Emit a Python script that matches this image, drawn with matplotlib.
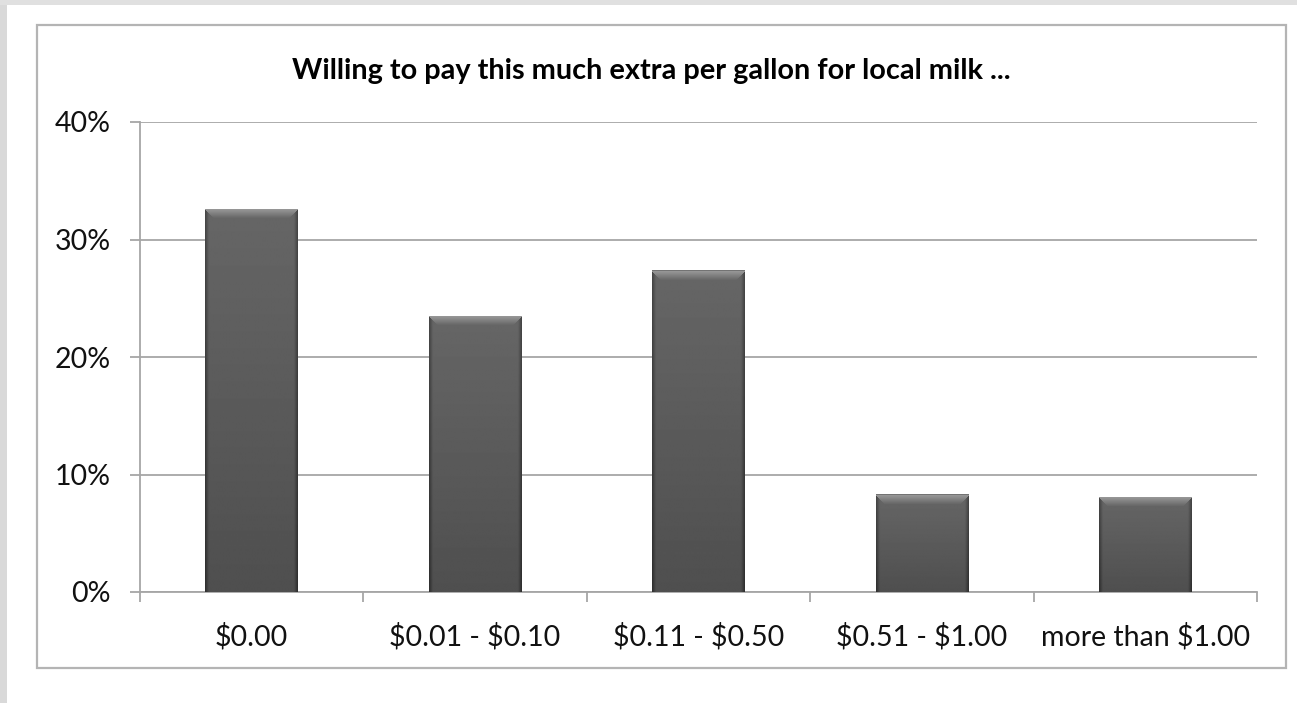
import matplotlib
matplotlib.use("Agg")
import matplotlib.pyplot as plt
import numpy as np
from matplotlib.patches import Rectangle

# data
categories = ["$0.00", "$0.01 - $0.10", "$0.11 - $0.50", "$0.51 - $1.00", "more than $1.00"]
shares = [32.6, 23.5, 27.4, 8.3, 8.1]
yticks = [0, 10, 20, 30, 40]
title = "Willing to pay this much extra per gallon for local milk ..."

plt.rcParams["font.family"] = ["Lato", "DejaVu Sans"]
plt.rcParams["text.parse_math"] = False   # keep the $ signs literal
W, H = 1297, 703
fig = plt.figure(figsize=(W / 100, H / 100), dpi=100)
fig.patch.set_facecolor("white")

# gray strips of the page behind the chart
fig.patches.append(Rectangle((0, 0), 7 / W, 1, transform=fig.transFigure,
                             facecolor="#d9d9d9", edgecolor="none", zorder=-1))
fig.patches.append(Rectangle((0, 1 - 5 / H), 1, 5 / H, transform=fig.transFigure,
                             facecolor="#e0e0e0", edgecolor="none", zorder=-1))
# chart frame
fig.patches.append(Rectangle((37 / W, 1 - 668 / H), (1286 - 37) / W, (668 - 25) / H,
                             transform=fig.transFigure, facecolor="none",
                             edgecolor="#b4b4b4", linewidth=1.6, zorder=-1))

ax = fig.add_axes([140 / W, 1 - 592 / H, (1257 - 140) / W, (592 - 122) / H])
ax.set_facecolor("none")
x = np.arange(len(categories))
ax.set_xlim(-0.5, len(categories) - 0.5)
ax.set_ylim(0, 40)

gcol = "#a6a6a6"
ax.set_yticks(yticks)
ax.set_yticklabels([f"{v}%" for v in yticks])
ax.yaxis.grid(True, color=gcol, linewidth=1.3)
ax.set_axisbelow(True)
ax.set_xticks(np.arange(len(categories) + 1) - 0.5)
ax.set_xticklabels([])
ax.set_xticks(x, minor=True)
ax.set_xticklabels(categories, minor=True)
ax.tick_params(axis="x", which="major", length=7, width=1.3, color=gcol, direction="out")
ax.tick_params(axis="x", which="minor", length=0, pad=22, labelsize=20.5, labelcolor="#111111")
ax.tick_params(axis="y", length=7, width=1.3, color=gcol, direction="out", pad=14,
               labelsize=20.5, labelcolor="#111111")
for side in ["top", "right"]:
    ax.spines[side].set_visible(False)
for side in ["left", "bottom"]:
    ax.spines[side].set_color(gcol)
    ax.spines[side].set_linewidth(1.3)

bars = ax.bar(x, shares, width=0.415, color="#5e5e5e", edgecolor="none", zorder=2)

# shaded fill for each bar (dark edges, light bevel at the top)
fig.canvas.draw()
px_per_y = ax.transData.transform((0, 1))[1] - ax.transData.transform((0, 0))[1]
px_per_x = ax.transData.transform((1, 0))[0] - ax.transData.transform((0, 0))[0]
for b in bars:
    x0, w, h = b.get_x(), b.get_width(), b.get_height()
    nw = max(int(w * px_per_x), 2)
    nh = max(int(h * px_per_y), 2)
    cx = np.arange(nw) + 0.5
    cy = np.arange(nh) + 0.5
    X, Y = np.meshgrid(cx, cy)          # Y measured from top of bar
    side = np.minimum(X, nw - X)
    img = 0.40 - 0.09 * (Y / nh)
    img = img - 0.14 * np.clip(1 - side / 4, 0, 1)
    bev = 10
    top = (Y < bev) & (Y <= side + 1)
    img = np.where(top, 0.40 + 0.22 * (1 - Y / bev), img)
    img = np.where(Y < 1.5, 0.45, img)
    im = ax.imshow(img, cmap="gray", vmin=0, vmax=1, aspect="auto",
                   extent=(x0, x0 + w, 0, h), origin="upper", zorder=3,
                   interpolation="bilinear")
    im.set_clip_path(b)

ax.set_xlim(-0.5, len(categories) - 0.5)
ax.set_ylim(0, 40)

fig.text(651 / W, 1 - 71 / H, title, ha="center", va="center",
         fontsize=20.8, fontweight="bold", color="black")

fig.savefig("out.png", dpi=100)
